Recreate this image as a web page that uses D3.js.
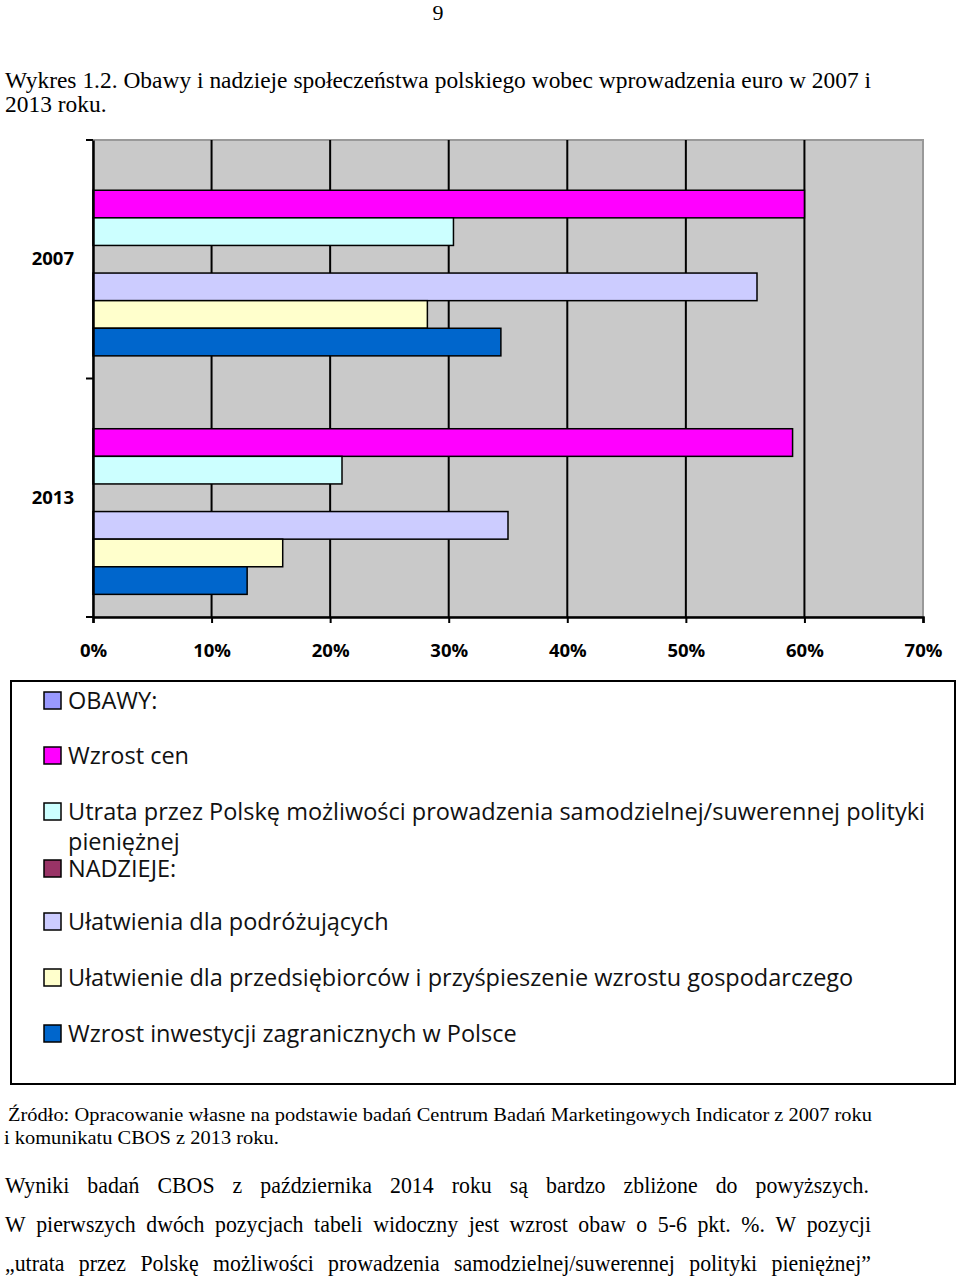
<!DOCTYPE html>
<html><head><meta charset="utf-8">
<script src="https://cdn.jsdelivr.net/npm/d3@7"></script>
<style>body{margin:0;background:#fff}svg{display:block}</style>
</head><body>
<svg id="c" width="960" height="1280"></svg>
<script>
const categories = ["2007", "2013"];
const seriesNames = [
  "OBAWY:",
  "Wzrost cen",
  "Utrata przez Polskę możliwości prowadzenia samodzielnej/suwerennej polityki pieniężnej",
  "NADZIEJE:",
  "Ułatwienia dla podróżujących",
  "Ułatwienie dla przedsiębiorców i przyśpieszenie wzrostu gospodarczego",
  "Wzrost inwestycji zagranicznych w Polsce"
];
const seriesColors = ["#9999FF", "#FF00FF", "#CCFFFF", "#993366", "#CCCCFF", "#FFFFCC", "#0066CC"];
const values2007 = [null, 60, 30.4, null, 56, 28.2, 34.4];
const values2013 = [null, 59, 21, null, 35, 16, 13];
const xTicks = [0, 10, 20, 30, 40, 50, 60, 70];
const legendLines = [
  ["OBAWY:"],
  ["Wzrost cen"],
  ["Utrata przez Polskę możliwości prowadzenia samodzielnej/suwerennej polityki", "pieniężnej"],
  ["NADZIEJE:"],
  ["Ułatwienia dla podróżujących"],
  ["Ułatwienie dla przedsiębiorców i przyśpieszenie wzrostu gospodarczego"],
  ["Wzrost inwestycji zagranicznych w Polsce"]
];

const svg = d3.select("#c");
const serif = "'Liberation Serif','Times New Roman',serif";
const sans = "'Open Sans','Noto Sans',sans-serif";

svg.append("text").attr("x", 438).attr("y", 20).attr("text-anchor","middle")
  .attr("font-family", serif).attr("font-size", 22).text("9");

function textLine(text, x, y, width, size, compress) {
  const g = svg.append("g");
  const words = text.split(" ");
  const nodes = words.map(w => g.append("text").attr("y", y)
    .attr("font-family", serif).attr("font-size", size).text(w));
  const raw = nodes.map(n => n.node().getComputedTextLength());
  const spaceW = size * 0.25;
  if (compress === "auto") {
    compress = width / (d3.sum(raw) + spaceW * (words.length - 1));
  }
  const widths = raw.map(w => w * compress);
  const total = d3.sum(widths);
  const space = width ? (width - total) / (words.length - 1) : spaceW * compress;
  let cx = x;
  nodes.forEach((n, i) => {
    n.attr("transform", `translate(${cx},0) scale(${compress},1)`).attr("x", 0);
    cx += widths[i] + space;
  });
  return compress;
}
const c1 = textLine("Wykres 1.2. Obawy i nadzieje społeczeństwa polskiego wobec wprowadzenia euro w 2007 i", 5, 88, 866, 24, "auto");
textLine("2013 roku.", 5, 112, 0, 24, c1);

// Chart
const x = d3.scaleLinear().domain([0, 70]).range([93, 923]);
const y = d3.scaleBand().domain(categories).range([140, 617]);
const yi = d3.scaleBand().domain(seriesNames).range([0, y.bandwidth()]).paddingInner(0).paddingOuter(0.82);

svg.append("rect").attr("x", x(0)).attr("y", 140).attr("width", x(70) - x(0)).attr("height", 477)
  .attr("fill", "#C9C9C9").attr("stroke", "#999").attr("stroke-width", 2);

svg.append("g").selectAll("line").data(xTicks.filter(t => t > 0 && t < 70)).join("line")
  .attr("x1", d => x(d)).attr("x2", d => x(d)).attr("y1", 140).attr("y2", 617)
  .attr("stroke", "#000").attr("stroke-width", 2);

const rows = categories.map((c, ci) => ({c, vals: ci === 0 ? values2007 : values2013}));
rows.forEach(r => {
  svg.append("g").selectAll("rect").data(r.vals.map((v, i) => ({v, i})).filter(d => d.v != null)).join("rect")
    .attr("x", x(0)).attr("y", d => y(r.c) + yi(seriesNames[d.i]))
    .attr("width", d => x(d.v) - x(0)).attr("height", yi.bandwidth())
    .attr("fill", d => seriesColors[d.i]).attr("stroke", "#000").attr("stroke-width", 1.5);
});

const xAxis = d3.axisBottom(x).tickValues(xTicks).tickFormat(d => d + "%").tickSize(6).tickPadding(21);
const gx = svg.append("g").attr("transform", "translate(0,617)").call(xAxis);
gx.select(".domain").attr("stroke-width", 2.5);
gx.selectAll(".tick line").attr("stroke-width", 2);
gx.selectAll("text").attr("font-family", sans).attr("font-weight", "bold").attr("font-size", 18.5).attr("fill", "#000");

const gy = svg.append("g").attr("transform", "translate(93,0)")
  .call(d3.axisLeft(y).tickSize(0).tickPadding(19));
gy.select(".domain").attr("stroke-width", 2.5);
gy.selectAll("text").attr("font-family", sans).attr("font-weight", "bold").attr("font-size", 18.5).attr("fill", "#000");
svg.append("g").selectAll("line").data([140, y("2013"), 617]).join("line")
  .attr("x1", 86).attr("x2", 93).attr("y1", d => d).attr("y2", d => d)
  .attr("stroke", "#000").attr("stroke-width", 2);

// Legend
svg.append("rect").attr("x", 11).attr("y", 681).attr("width", 944).attr("height", 403)
  .attr("fill", "#fff").attr("stroke", "#000").attr("stroke-width", 2);
const legendY = [701, 756, 812, 869, 922, 978, 1034];
const lg = svg.append("g");
legendLines.forEach((lines, i) => {
  lg.append("rect").attr("x", 44).attr("y", legendY[i] - 9).attr("width", 17).attr("height", 17)
    .attr("fill", seriesColors[i]).attr("stroke", "#000").attr("stroke-width", 1.5);
  lines.forEach((t, j) => {
    const tx = lg.append("text").attr("x", 68).attr("y", legendY[i] + 8 + j * 30)
      .attr("font-family", sans).attr("font-size", 23.5).attr("fill", "#111").text(t);
    if (j === 0 && i === 2) tx.attr("textLength", 857).attr("lengthAdjust", "spacingAndGlyphs");
  });
});

// Source & paragraph
const c2 = textLine("Źródło: Opracowanie własne na podstawie badań Centrum Badań Marketingowych Indicator z 2007 roku", 8, 1121, 864, 19, "auto");
textLine("i komunikatu CBOS z 2013 roku.", 4, 1144, 0, 19, c2);
textLine("Wyniki badań CBOS z października 2014 roku są bardzo zbliżone do powyższych.", 5, 1193, 864, 23, 0.95);
textLine("W pierwszych dwóch pozycjach tabeli widoczny jest wzrost obaw o 5-6 pkt. %. W pozycji", 5, 1232, 866, 23, 0.95);
textLine("„utrata przez Polskę możliwości prowadzenia samodzielnej/suwerennej polityki pieniężnej”", 5, 1271, 866, 23, 0.95);
</script>
</body></html>
